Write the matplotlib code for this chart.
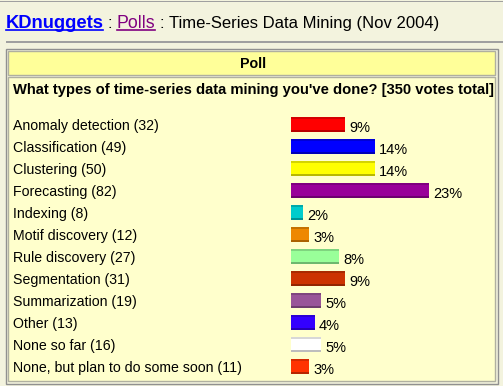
import matplotlib.pyplot as plt
import matplotlib.patches as mpatches
import matplotlib.colors as mcolors
import numpy as np

plt.rcParams['font.family'] = ['Liberation Sans', 'DejaVu Sans']

categories = ["Anomaly detection", "Classification", "Clustering", "Forecasting",
              "Indexing", "Motif discovery", "Rule discovery", "Segmentation",
              "Summarization", "Other", "None so far", "None, but plan to do some soon"]
votes = [32, 49, 50, 82, 8, 12, 27, 31, 19, 13, 16, 11]
total_votes = 350
bar_colors = ["#ff0000", "#0000ff", "#ffff00", "#990099", "#00cccc", "#ee8800",
              "#99ff99", "#cc3300", "#995599", "#3300ff", "#ffffff", "#ff3300"]

percents = [int(round(v * 100.0 / total_votes)) for v in votes]

W, H = 503, 386
fig = plt.figure(figsize=(W / 100, H / 100), dpi=100)
fig.patch.set_facecolor('#f3f3de')
ax = fig.add_axes([0, 0, 1, 1])
ax.set_xlim(0, W)
ax.set_ylim(H, 0)
ax.axis('off')

# page rules
ax.add_patch(mpatches.Rectangle((0, 0.5), W, 1.5, color='#a0a0a0', lw=0))
ax.add_patch(mpatches.Rectangle((6, 41), W - 6, 2, color='#a0a0a0', lw=0))

# heading
ax.text(6, 28, "KDnuggets", color='#0000ff', fontsize=13.2, fontweight='bold', va='baseline')
ax.plot([6, 103], [30, 30], color='#0000ff', lw=1.2)
ax.text(108, 28, ":", color='black', fontsize=12, va='baseline')
ax.text(117, 28, "Polls", color='#800080', fontsize=12.8, va='baseline')
ax.plot([117, 155], [30, 30], color='#800080', lw=1.2)
ax.text(160, 28, ":", color='black', fontsize=12, va='baseline')
ax.text(169, 28, "Time-Series Data Mining (Nov 2004)", color='black', fontsize=12, va='baseline')

# poll box
ax.add_patch(mpatches.Rectangle((6, 49), 492, 335, facecolor='#f3f3de', edgecolor='#909090', lw=1))
ax.add_patch(mpatches.Rectangle((8, 51), 487, 24, facecolor='#ffff99', edgecolor='#b0b0a0', lw=1))
ax.add_patch(mpatches.Rectangle((8, 77), 487, 304, facecolor='#ffffcc', edgecolor='#b0b0a0', lw=1))
ax.text(253, 68, "Poll", fontsize=10.3, fontweight='bold', ha='center', va='baseline')
ax.text(13, 94, "What types of time-series data mining you've done? [%d votes total]" % total_votes,
        fontsize=10.6, fontweight='bold', va='baseline')

# rows
y = 117 + 22 * np.arange(len(categories))
widths = np.array(percents) * 6
bar_h = 15
ax.barh(y, widths, left=291, height=bar_h, align='edge', color=bar_colors, lw=0)
shade = []
for c in bar_colors:
    r, g, b = mcolors.to_rgb(c)
    if (r, g, b) == (1, 1, 1):
        shade.append('#bdbdbd')
    else:
        shade.append((r * 0.72, g * 0.72, b * 0.72))
ax.barh(y, widths, left=291, height=2, align='edge', color=shade, lw=0, alpha=0.6)
ax.barh(y + bar_h - 2, widths, left=291, height=2, align='edge', color=shade, lw=0)

for i in range(len(categories)):
    ax.text(13, y[i] + 13, "%s (%d)" % (categories[i], votes[i]), fontsize=10.2, va='baseline')
    ax.text(291 + widths[i] + 4, y[i] + 15, "%d%%" % percents[i], fontsize=10.5, va='baseline')

fig.savefig('out.png', dpi=100, facecolor=fig.get_facecolor())
